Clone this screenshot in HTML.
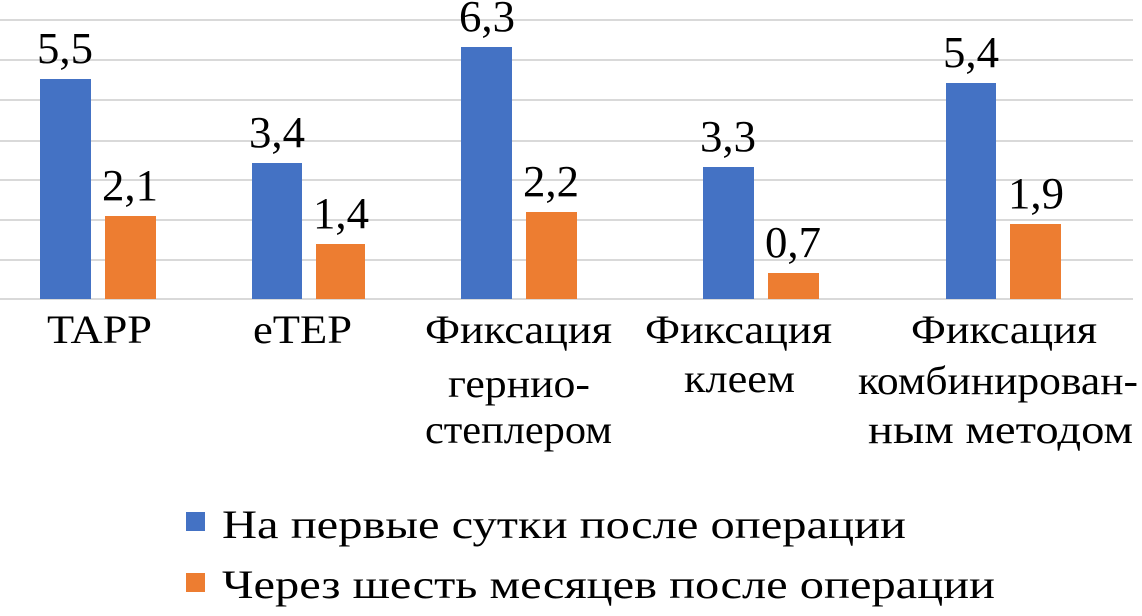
<!DOCTYPE html>
<html><head><meta charset="utf-8"><style>
body{margin:0;background:#fff;}
</style></head><body>
<svg width="1142" height="611" viewBox="0 0 1142 611" xmlns="http://www.w3.org/2000/svg" font-family="Liberation Serif, Times New Roman, Nimbus Roman, DejaVu Serif, serif">
<g stroke="#d9d9d9" stroke-width="2">
<line x1="0" y1="20" x2="1133" y2="20"/>
<line x1="0" y1="60" x2="1133" y2="60"/>
<line x1="0" y1="100" x2="1133" y2="100"/>
<line x1="0" y1="141" x2="1133" y2="141"/>
<line x1="0" y1="180" x2="1133" y2="180"/>
<line x1="0" y1="220" x2="1133" y2="220"/>
<line x1="0" y1="260" x2="1133" y2="260"/>
<line x1="0" y1="299" x2="1133" y2="299"/>
</g>
<g fill="#4472c4">
<rect x="40" y="79" width="51" height="220"/>
<rect x="252" y="163" width="50" height="136"/>
<rect x="461" y="47" width="51" height="252"/>
<rect x="703" y="167" width="51" height="132"/>
<rect x="946" y="83" width="50" height="216"/>
</g>
<g fill="#ed7d31">
<rect x="105" y="216" width="51" height="83"/>
<rect x="316" y="244" width="49" height="55"/>
<rect x="526" y="212" width="51" height="87"/>
<rect x="768" y="273" width="51" height="26"/>
<rect x="1010" y="224" width="51" height="75"/>
</g>
<g font-size="44" text-anchor="middle" fill="#000">
<text x="65" y="63" textLength="56" lengthAdjust="spacingAndGlyphs">5,5</text>
<text x="130" y="200" textLength="56" lengthAdjust="spacingAndGlyphs">2,1</text>
<text x="277" y="147" textLength="56" lengthAdjust="spacingAndGlyphs">3,4</text>
<text x="341" y="228" textLength="56" lengthAdjust="spacingAndGlyphs">1,4</text>
<text x="487" y="31" textLength="56" lengthAdjust="spacingAndGlyphs">6,3</text>
<text x="551" y="196" textLength="56" lengthAdjust="spacingAndGlyphs">2,2</text>
<text x="728" y="151" textLength="56" lengthAdjust="spacingAndGlyphs">3,3</text>
<text x="793" y="257" textLength="56" lengthAdjust="spacingAndGlyphs">0,7</text>
<text x="971" y="67" textLength="56" lengthAdjust="spacingAndGlyphs">5,4</text>
<text x="1036" y="208" textLength="56" lengthAdjust="spacingAndGlyphs">1,9</text>
</g>
<g font-size="40" fill="#000">
<text x="47" y="343" textLength="105" lengthAdjust="spacingAndGlyphs">TAPP</text>
<text x="253" y="343" textLength="99" lengthAdjust="spacingAndGlyphs">eTEP</text>
<text x="425" y="343" textLength="187" lengthAdjust="spacingAndGlyphs">Фиксация</text>
<text x="448" y="397" textLength="142" lengthAdjust="spacingAndGlyphs">герниo-</text>
<text x="425" y="443" textLength="187" lengthAdjust="spacingAndGlyphs">степлером</text>
<text x="645" y="343" textLength="187" lengthAdjust="spacingAndGlyphs">Фиксация</text>
<text x="684" y="392" textLength="111" lengthAdjust="spacingAndGlyphs">клеем</text>
<text x="911" y="343" textLength="186" lengthAdjust="spacingAndGlyphs">Фиксация</text>
<text x="858" y="394" textLength="280" lengthAdjust="spacingAndGlyphs">комбинирован-</text>
<text x="868" y="443" textLength="265" lengthAdjust="spacingAndGlyphs">ным методом</text>
</g>
<rect x="186" y="512" width="19" height="19" fill="#4472c4"/>
<rect x="186" y="573" width="19" height="19" fill="#ed7d31"/>
<g font-size="40" fill="#000">
<text x="222" y="538" textLength="684" lengthAdjust="spacingAndGlyphs">На первые сутки после операции</text>
<text x="222" y="598" textLength="773" lengthAdjust="spacingAndGlyphs">Через шесть месяцев после операции</text>
</g>
</svg>
</body></html>
